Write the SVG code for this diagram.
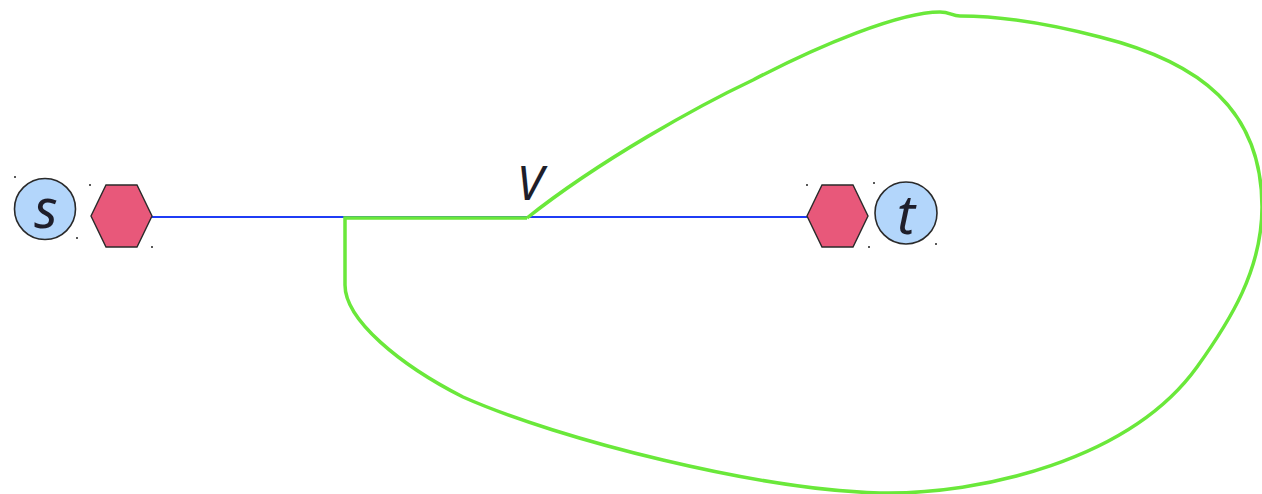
<svg xmlns="http://www.w3.org/2000/svg" width="1262" height="494" viewBox="0 0 1262 494">
<style>
.circ{fill:#b3d6fb;stroke:#2a2a2a;stroke-width:1.6}
.hex{fill:#e8587a;stroke:#2a2a2a;stroke-width:1.4}
.lbl{font-family:"Noto Sans","Open Sans",sans-serif;font-style:italic;font-size:48px;fill:#1e1e2a;text-anchor:middle}
.big{font-size:54px}
.dot{fill:#222}
.blue{stroke:#1f3cf5;stroke-width:2;fill:none}
.green{stroke:#6ae83a;stroke-width:3.5;fill:none;stroke-linejoin:miter}
</style>
<rect width="1262" height="494" fill="#ffffff"/>
<g id="connectors">
<line class="blue" x1="152" y1="217" x2="807" y2="217"/>
<path class="green" d="M527,218 L345,218 L345,285 C345,320 400,365 463,397 C560,440 760,490 880,493 C980,495 1130,460 1197,367 C1230,321 1262,270 1262,207 C1262,110 1200,62 1100,37 C1050,24 1000,16 960,16 C952,16 950,12 940,12 C900,12 820,45 753,80 C700,105 600,160 527,218"/>
</g>
<g id="node-s">
<circle class="circ" cx="45" cy="209" r="30.5"/>
<text class="lbl big" x="46" y="228">s</text>
<circle class="dot" cx="15" cy="177" r="1"/>
<circle class="dot" cx="77" cy="238" r="1"/>
</g>
<g id="node-hex-left">
<polygon class="hex" points="91,216 106,185 137,185 152,216 137,247 106,247"/>
<circle class="dot" cx="90" cy="185" r="1"/>
<circle class="dot" cx="152" cy="247" r="1"/>
</g>
<g id="node-v">
<text class="lbl" x="530" y="200">V</text>
</g>
<g id="node-hex-right">
<polygon class="hex" points="807,216 822,185 853,185 868,216 853,247 822,247"/>
<circle class="dot" cx="807" cy="185" r="1"/>
<circle class="dot" cx="869" cy="247" r="1"/>
</g>
<g id="node-t">
<circle class="circ" cx="906" cy="213" r="31"/>
<text class="lbl big" x="906" y="234">t</text>
<circle class="dot" cx="874" cy="183" r="1"/>
<circle class="dot" cx="936" cy="244" r="1"/>
</g>
</svg>
